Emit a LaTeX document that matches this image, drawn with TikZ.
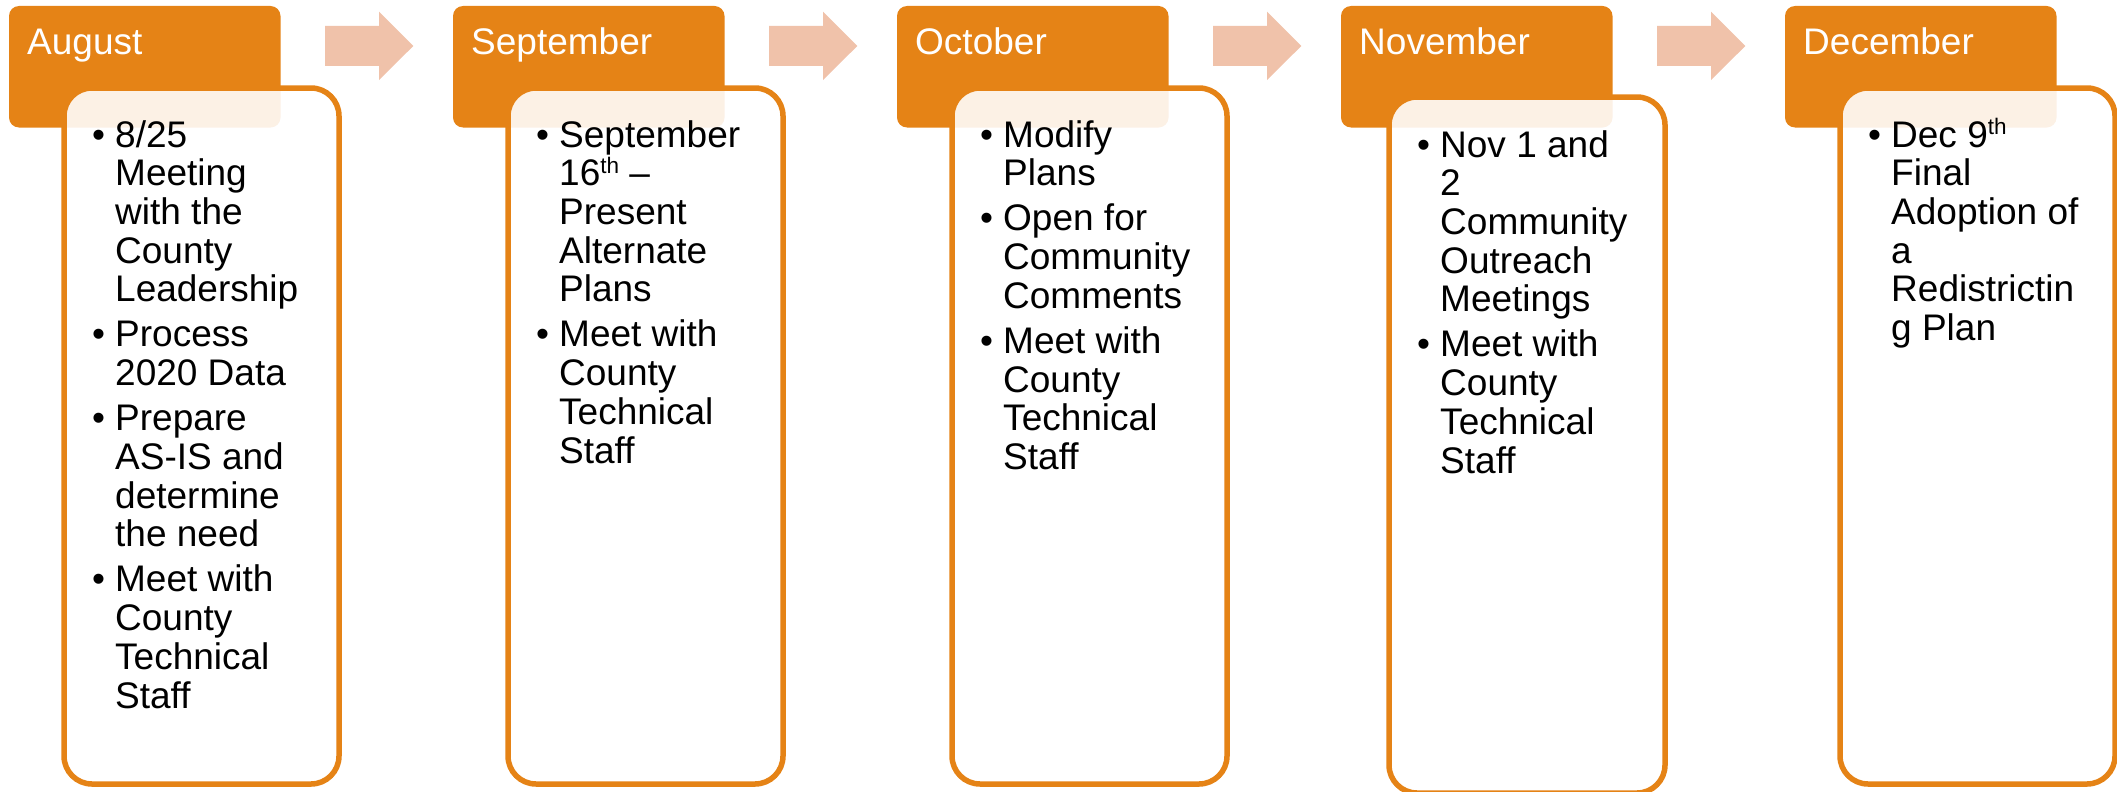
\documentclass[tikz,border=0pt]{standalone}
\usepackage{fontspec}
\setmainfont{Liberation Sans}
\definecolor{accent}{HTML}{E58316}
\definecolor{arrowfill}{HTML}{F0C2AA}
\newcommand{\bitem}[1]{\par\noindent\hangindent=23pt\hangafter=1\makebox[23pt][l]{\textbullet}#1\par}
\newcommand{\bgap}{\vspace{6.4pt}}
\newcommand{\sups}[1]{\raisebox{12.5pt}{\fontsize{22.5}{22.5}\selectfont #1}}
\newcommand{\btext}[1]{\begin{minipage}[t]{240pt}\raggedright\lineskiplimit=-100pt #1\end{minipage}}
\begin{document}
\begin{tikzpicture}[x=1pt,y=-1pt,
  hdr/.style={fill=accent, rounded corners=10pt, minimum width=271.5pt, minimum height=121.5pt, anchor=north west, inner sep=0pt, outer sep=0pt},
  body/.style={draw=accent, line width=5.5pt, fill=white, fill opacity=0.89, rounded corners=28pt, minimum width=275pt, minimum height=696pt, anchor=north west, inner sep=0pt, outer sep=0pt},
  hdrtxt/.style={text=white, font=\fontsize{37}{38.7}\selectfont, anchor=base west, inner sep=0pt},
  bodytxt/.style={text=black, font=\fontsize{37}{38.7}\selectfont, anchor=base west, inner sep=0pt},
  arr/.style={fill=arrowfill}]
\useasboundingbox (0,0) rectangle (2117,792);

% headers
\node[hdr] (h1) at (9,6) {};
\node[hdr] (h2) at (453,6) {};
\node[hdr] (h3) at (897,6) {};
\node[hdr] (h4) at (1341,6) {};
\node[hdr] (h5) at (1785,6) {};

% arrows between headers
\foreach \i in {0,...,3}{
  \pgfmathsetmacro{\xa}{325+444*\i}
  \pgfmathsetmacro{\xb}{379+444*\i}
  \pgfmathsetmacro{\xc}{413.3+444*\i}
  \fill[arr] (\xa,26) -- (\xb,26) -- (\xb,11.7) -- (\xc,46) -- (\xb,80) -- (\xb,66) -- (\xa,66) -- cycle;
}

% bodies
\node[body] (b1) at (64,88) {};
\node[body] (b2) at (508,88) {};
\node[body] (b3) at (952,88) {};
\node[body, minimum width=276pt] (b4) at (1389,97) {};
\node[body] (b5) at (1840,88) {};

% header texts
\node[hdrtxt] (t1) at (27,55) {August};
\node[hdrtxt] (t2) at (471,55) {September};
\node[hdrtxt] (t3) at (915,55) {October};
\node[hdrtxt] (t4) at (1359,55) {November};
\node[hdrtxt] (t5) at (1803,55) {December};

% body texts
\node[bodytxt] (c1) at (92,147) {\btext{%
\bitem{8/25\newline Meeting\newline with the\newline County\newline Leadership}\bgap
\bitem{Process\newline 2020 Data}\bgap
\bitem{Prepare\newline AS-IS and\newline determine\newline the need}\bgap
\bitem{Meet with\newline County\newline Technical\newline Staff}}};

\node[bodytxt] (c2) at (536,147) {\btext{%
\bitem{September\newline 16\sups{th} –\newline Present\newline Alternate\newline Plans}\bgap
\bitem{Meet with\newline County\newline Technical\newline Staff}}};

\node[bodytxt] (c3) at (980,147) {\btext{%
\bitem{Modify\newline Plans}\bgap
\bitem{Open for\newline Community\newline Comments}\bgap
\bitem{Meet with\newline County\newline Technical\newline Staff}}};

\node[bodytxt] (c4) at (1417,157) {\btext{%
\bitem{Nov 1 and\newline 2\newline Community\newline Outreach\newline Meetings}\bgap
\bitem{Meet with\newline County\newline Technical\newline Staff}}};

\node[bodytxt] (c5) at (1868,147) {\btext{%
\bitem{Dec 9\sups{th}\newline Final\newline Adoption of\newline a\newline Redistrictin\newline g Plan}}};
\end{tikzpicture}
\end{document}
